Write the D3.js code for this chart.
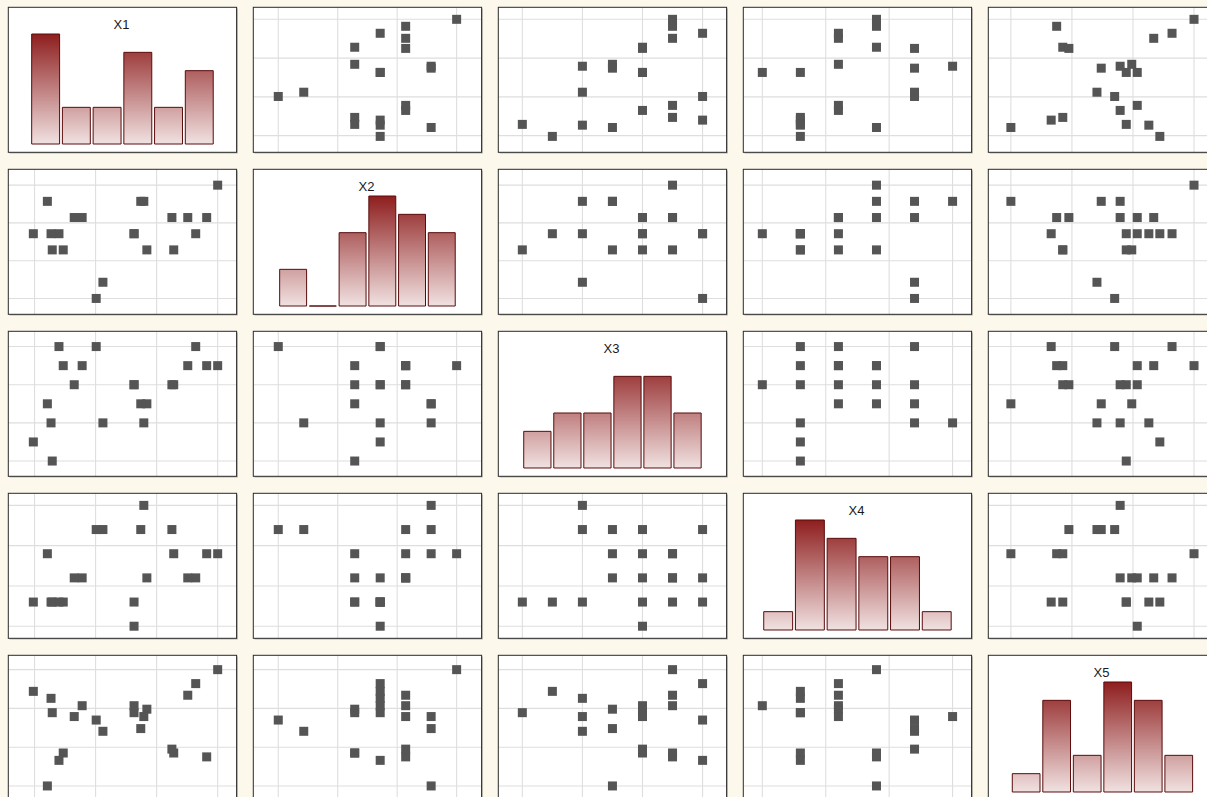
<!DOCTYPE html>
<html>
<head>
<meta charset="utf-8">
<script src="https://cdn.jsdelivr.net/npm/d3@7"></script>
<style>
  html, body { margin: 0; padding: 0; background: #fdf8ec; overflow: hidden; }
  svg { display: block; }
</style>
</head>
<body>
<div id="chart"></div>
<script>
'use strict';

// ─── Data: 21 observations, 5 variables ─────────────────────────────────────
const varNames = ['X1', 'X2', 'X3', 'X4', 'X5'];

const x1 = [3.00, 2.82, 2.64, 2.51, 2.28, 2.25, 1.84, 1.79, 1.74, 1.63, 1.63,
            1.12, 1.01, 0.78, 0.65, 0.47, 0.40, 0.29, 0.27, 0.21, -0.02];
const x2 = [8, 6, 5, 6, 4, 6, 4, 7, 7, 5, 5, 2, 1, 6, 6, 4, 5, 4, 5, 7, 5];
const x3 = [6, 6, 7, 6, 5, 5, 4, 3, 4, 5, 5, 3, 7, 6, 5, 6, 7, 1, 3, 4, 2];
const x4 = [4, 4, 3, 3, 4, 5, 3, 6, 5, 2, 1, 5, 5, 3, 3, 2, 2, 2, 2, 4, 2];
const x5 = [3.00, 0.75, 2.64, 2.34, 0.85, 0.95, 1.98, 1.79, 1.48, 1.89, 2.07,
            1.41, 1.70, 2.07, 1.79, 0.85, 0.66, 1.89, 2.26, 0.00, 2.44];

// grid-line values (no labels are shown in the figure)
const ticksX1 = [0, 1, 2, 3];
const ticksX2 = [1, 1 + 7 / 3, 1 + 14 / 3, 8];
const ticksX3 = [1, 3, 5, 7];
const ticksX4 = [1, 1 + 5 / 3, 1 + 10 / 3, 6];
const ticksX5 = [0, 1, 2, 3];

// axis extents per variable
const domainX1 = [-0.43, 3.31];
const domainX2 = [0.02, 8.98];
const domainX3 = [0.2, 7.8];
const domainX4 = [0.5, 6.5];
const domainX5 = [-0.37, 3.37];

const N_BINS = 6;
const MAX_COUNT = 6;

const columns = [x1, x2, x3, x4, x5];
const ticks   = [ticksX1, ticksX2, ticksX3, ticksX4, ticksX5];
const domains = [domainX1, domainX2, domainX3, domainX4, domainX5];

// ─── Layout ──────────────────────────────────────────────────────────────────
const W = 1207, H = 797;
const LEFT = 8.3, TOP = 7.3;
const PW = 228.3, PH = 145;
const STEP_X = 245, STEP_Y = 162;
const PT = 9;              // point square size
const HIST_BASE = 136.7;   // histogram baseline inside a panel
const HIST_TOP  = 26.7;    // height reached by MAX_COUNT

const svg = d3.select('#chart').append('svg')
  .attr('width', W)
  .attr('height', H)
  .style('font-family', '"Liberation Sans", Arial, sans-serif');

svg.append('rect').attr('width', W).attr('height', H).attr('fill', '#fdf8ec');

const defs = svg.append('defs');
const grad = defs.append('linearGradient')
  .attr('id', 'barGrad')
  .attr('gradientUnits', 'userSpaceOnUse')
  .attr('x1', 0).attr('x2', 0)
  .attr('y1', HIST_TOP).attr('y2', HIST_BASE);
grad.append('stop').attr('offset', 0).attr('stop-color', '#8e1e1e');
grad.append('stop').attr('offset', 1).attr('stop-color', '#f1e1e1');

const xScales = domains.map(d => d3.scaleLinear().domain(d).range([0, PW]));
const yScales = domains.map(d => d3.scaleLinear().domain(d).range([PH, 0]));
const yCount  = d3.scaleLinear().domain([0, MAX_COUNT]).range([HIST_BASE, HIST_TOP]);

const nObs = x1.length;

for (let r = 0; r < 5; r++) {
  for (let c = 0; c < 5; c++) {
    const g = svg.append('g')
      .attr('transform', `translate(${LEFT + c * STEP_X},${TOP + r * STEP_Y})`);

    // panel shadow + frame
    g.append('rect')
      .attr('x', 1.2).attr('y', 1.2)
      .attr('width', PW).attr('height', PH)
      .attr('fill', '#b9b3a8');
    g.append('rect')
      .attr('width', PW).attr('height', PH)
      .attr('fill', '#ffffff');

    if (r === c) {
      // ── diagonal: histogram, centred on the data range ──
      const vals = columns[c];
      const [lo, hi] = d3.extent(vals);
      const pxPerUnit = PW / (domains[c][1] - domains[c][0]);
      const span = (hi - lo) * pxPerUnit;
      const xs = d3.scaleLinear().domain([lo, hi]).range([(PW - span) / 2, (PW + span) / 2]);
      const w = (hi - lo) / N_BINS;
      // right-closed intervals: a value on a break belongs to the lower bin
      const bins = d3.bin()
        .domain([lo, hi])
        .thresholds(d3.range(1, N_BINS).map(i => lo + i * w + 1e-9))(vals);

      g.selectAll('path.bar')
        .data(bins)
        .join('path')
        .attr('class', 'bar')
        .attr('d', b => {
          const a = xs(b.x0) + 1.4, z = xs(b.x1) - 1.4;
          const y = yCount(b.length);
          return `M${a},${HIST_BASE}V${y}H${z}V${HIST_BASE}Z`;
        })
        .attr('fill', 'url(#barGrad)')
        .attr('stroke', '#5a0c0c')
        .attr('stroke-width', 1);

      g.append('text')
        .attr('x', PW / 2 - 1)
        .attr('y', 22)
        .attr('text-anchor', 'middle')
        .attr('font-size', 13)
        .attr('fill', '#1a1a1a')
        .text(varNames[c]);
    } else {
      // ── off-diagonal: scatter of column var (x) against row var (y) ──
      const xs = xScales[c], ys = yScales[r];

      g.selectAll('line.vg')
        .data(ticks[c])
        .join('line')
        .attr('class', 'vg')
        .attr('x1', d => xs(d)).attr('x2', d => xs(d))
        .attr('y1', 0).attr('y2', PH)
        .attr('stroke', '#dedede')
        .attr('stroke-width', 1.1);

      g.selectAll('line.hg')
        .data(ticks[r])
        .join('line')
        .attr('class', 'hg')
        .attr('x1', 0).attr('x2', PW)
        .attr('y1', d => ys(d)).attr('y2', d => ys(d))
        .attr('stroke', '#dedede')
        .attr('stroke-width', 1.1);

      g.selectAll('rect.pt')
        .data(d3.range(nObs))
        .join('rect')
        .attr('class', 'pt')
        .attr('x', i => xs(columns[c][i]) - PT / 2)
        .attr('y', i => ys(columns[r][i]) - PT / 2)
        .attr('width', PT).attr('height', PT)
        .attr('fill', '#555555');
    }

    g.append('rect')
      .attr('width', PW).attr('height', PH)
      .attr('fill', 'none')
      .attr('stroke', '#2a2a2a')
      .attr('stroke-width', 1);
  }
}
</script>
</body>
</html>
